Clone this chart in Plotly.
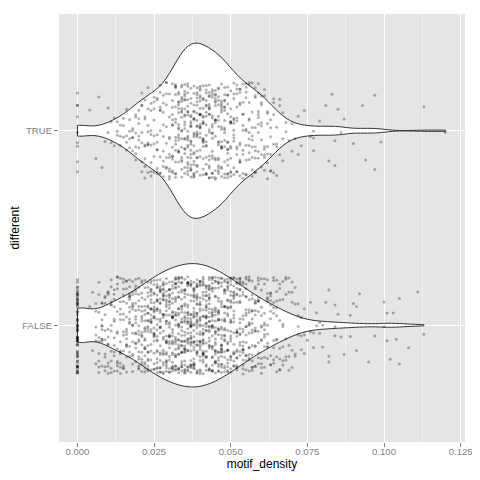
import numpy as np
import plotly.graph_objects as go

# ---- data ---------------------------------------------------------------
# motif_density values, stored as number of observations per 0.001-wide value
# (list index i  ->  motif_density = i / 1000)
true_counts = [
    9, 0, 0, 0, 1, 0, 1, 1, 1, 1,          # 0.000 - 0.009
    2, 2, 2, 3, 3, 3, 4, 4, 5, 6,          # 0.010 - 0.019
    6, 7, 8, 8, 8, 8, 9, 9, 9, 9,          # 0.020 - 0.029
    10, 13, 16, 17, 18, 19, 20, 20, 20, 20,  # 0.030 - 0.039
    20, 18, 18, 18, 17, 17, 17, 17, 16, 15,  # 0.040 - 0.049
    13, 12, 11, 11, 10, 10, 10, 9, 9, 9,   # 0.050 - 0.059
    8, 7, 7, 6, 5, 4, 3, 3, 2, 1,          # 0.060 - 0.069
    2, 1, 2, 1, 1, 0, 1, 3, 0, 1,          # 0.070 - 0.079
    0, 1, 1, 1, 2, 1, 1, 1, 0, 0,          # 0.080 - 0.089
    1, 0, 0, 1, 1, 0, 0, 2, 0, 1,          # 0.090 - 0.099
    0, 0, 0, 0, 0, 0, 0, 0, 0, 0,          # 0.100 - 0.109
    0, 0, 0, 1, 0, 0, 0, 0, 0, 0,          # 0.110 - 0.119
    1,                                     # 0.120
]
false_counts = [
    70, 0, 0, 0, 1, 2, 6, 9, 10, 10,       # 0.000 - 0.009
    10, 11, 11, 12, 12, 13, 14, 15, 15, 16,  # 0.010 - 0.019
    17, 18, 20, 21, 22, 23, 24, 25, 25, 26,  # 0.020 - 0.029
    27, 27, 28, 28, 29, 29, 29, 30, 30, 30,  # 0.030 - 0.039
    29, 29, 28, 28, 27, 27, 26, 25, 24, 23,  # 0.040 - 0.049
    22, 21, 20, 19, 18, 17, 16, 15, 14, 13,  # 0.050 - 0.059
    12, 11, 11, 10, 9, 9, 8, 7, 6, 5,      # 0.060 - 0.069
    5, 4, 4, 3, 3, 1, 2, 2, 2, 2,          # 0.070 - 0.079
    2, 1, 3, 0, 3, 1, 1, 1, 0, 2,          # 0.080 - 0.089
    1, 2, 1, 0, 0, 1, 0, 1, 0, 0,          # 0.090 - 0.099
    2, 2, 1, 1, 1, 2, 0, 0, 1, 0,          # 0.100 - 0.109
    0, 1, 0, 1,                            # 0.110 - 0.113
]
categories = ["FALSE", "TRUE"]
x_tick_values = [0.0, 0.025, 0.05, 0.075, 0.1, 0.125]
x_tick_labels = ["0.000", "0.025", "0.050", "0.075", "0.100", "0.125"]
x_minor_values = [0.0125, 0.0375, 0.0625, 0.0875, 0.1125]

# ---- style ---------------------------------------------------------------
# violin full widths (category units): ggplot's scale="area" makes the
# flatter FALSE violin narrower than the TRUE one
violin_widths = {"FALSE": 0.634, "TRUE": 0.9}
jitter_half_height = 0.25   # vertical jitter of the points (category units)
# the jittered points are drawn in x-sections so that plotly's
# density-adaptive jitter spreads sparse tail points as widely as dense ones
point_sections = {
    "FALSE": [0, 0.0005, 0.0705, 0.0805, 0.0905, 0.114],
    "TRUE": [0, 0.0005, 0.0105, 0.0205, 0.0655, 0.0805, 0.0905, 0.121],
}
point_marker = dict(color="rgba(0,0,0,0.3)", size=3, line=dict(width=0))


def expand(counts):
    vals = np.arange(len(counts)) / 1000.0
    return np.repeat(vals, counts)


def nrd0(x):
    # R's default bandwidth (used by ggplot2's geom_violin)
    x = np.asarray(x)
    sd = np.std(x, ddof=1)
    q75, q25 = np.percentile(x, [75, 25])
    lo = min(sd, (q75 - q25) / 1.34)
    return 0.9 * lo * len(x) ** -0.2


groups = {"FALSE": expand(false_counts), "TRUE": expand(true_counts)}

fig = go.Figure()
# violin outlines
for cat in categories:
    vals = groups[cat]
    fig.add_trace(go.Violin(
        x=vals,
        y=[cat] * len(vals),
        orientation="h",
        scalemode="width",
        width=violin_widths[cat],
        spanmode="hard",
        bandwidth=nrd0(vals),
        points=False,
        fillcolor="white",
        line=dict(color="#333333", width=1),
        box_visible=False,
        meanline_visible=False,
        showlegend=False,
        hoverinfo="skip",
    ))

# jittered points (invisible boxes that only show their points)
for cat in categories:
    vals = groups[cat]
    edges = point_sections[cat]
    for lo, hi in zip(edges[:-1], edges[1:]):
        sec = vals[(vals >= lo) & (vals < hi)]
        if len(sec) == 0:
            continue
        fig.add_trace(go.Box(
            x=sec,
            y=[cat] * len(sec),
            orientation="h",
            width=0.9,
            boxpoints="all",
            jitter=jitter_half_height / 0.45,
            pointpos=0,
            fillcolor="rgba(0,0,0,0)",
            line=dict(color="rgba(0,0,0,0)", width=0),
            marker=point_marker,
            showlegend=False,
            hoverinfo="skip",
        ))

# the page body keeps the browser's default 8px margin, so the figure is
# drawn 8px smaller and its margins are shifted to keep the panel in place
fig.update_layout(
    width=472,
    height=472,
    margin=dict(l=51, r=15, t=6, b=38, pad=0),
    paper_bgcolor="white",
    plot_bgcolor="#E5E5E5",
    font=dict(family="Liberation Sans, Arial, sans-serif", color="black"),
    violinmode="overlay",
    boxmode="overlay",
    xaxis=dict(
        range=[-0.00602, 0.12642],
        automargin=False,
        tickmode="array",
        tickvals=x_tick_values,
        ticktext=x_tick_labels,
        ticks="outside",
        ticklen=4,
        tickwidth=1,
        tickcolor="#7F7F7F",
        tickfont=dict(size=9.6, color="#7F7F7F"),
        ticklabelstandoff=-4,
        showgrid=True,
        gridcolor="white",
        gridwidth=1.2,
        minor=dict(tickmode="array", tickvals=x_minor_values, showgrid=True,
                   gridcolor="#F2F2F2", gridwidth=0.6, ticks=""),
        zeroline=False,
        showline=False,
        title=dict(text="motif_density", font=dict(size=12, color="black"), standoff=0),
    ),
    yaxis=dict(
        type="category",
        categoryorder="array",
        categoryarray=categories,
        range=[-0.6, 1.6],
        automargin=False,
        ticks="outside",
        ticklen=4,
        tickwidth=1,
        tickcolor="#7F7F7F",
        tickfont=dict(size=9.6, color="#7F7F7F"),
        showgrid=True,
        gridcolor="white",
        gridwidth=1.2,
        zeroline=False,
        showline=False,
        title=dict(text="different", font=dict(size=12, color="black"), standoff=0),
    ),
)

fig.write_html("out.html")
